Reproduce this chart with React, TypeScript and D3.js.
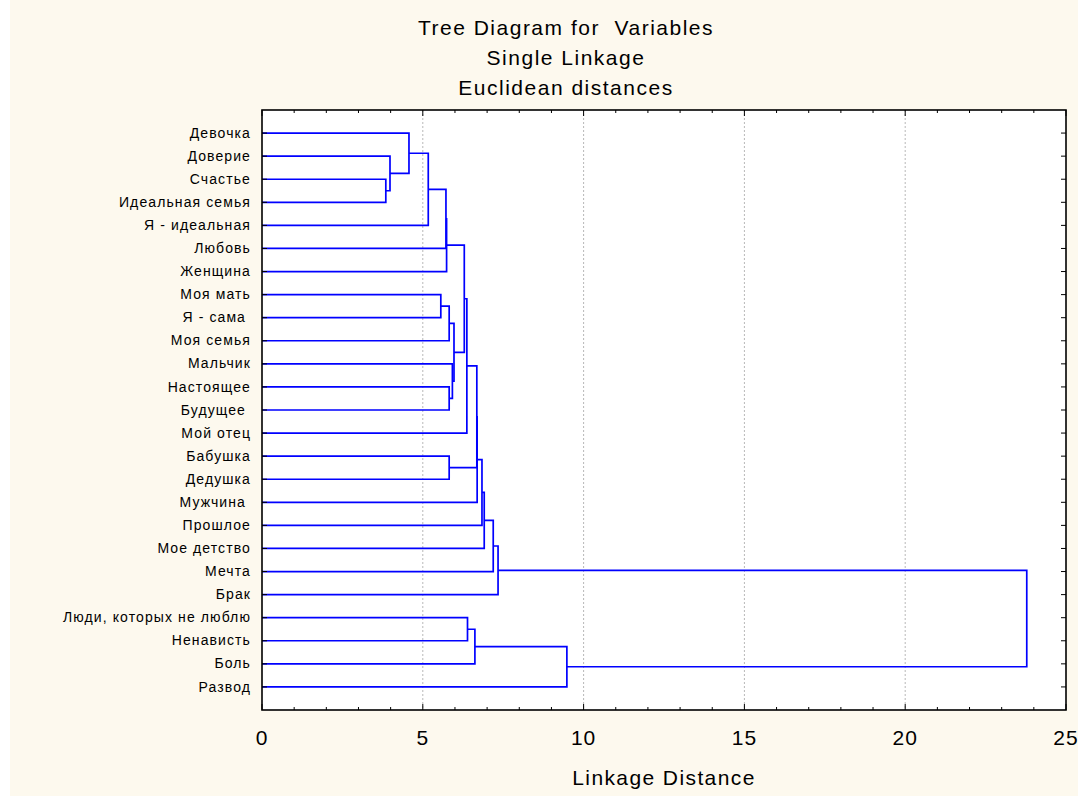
import React, { useEffect, useRef } from 'react';
import * as d3 from 'd3';

// листья дерева, сверху вниз
const labels = [
  'Девочка',
  'Доверие',
  'Счастье',
  'Идеальная семья',
  'Я - идеальная',
  'Любовь',
  'Женщина',
  'Моя мать',
  'Я - сама ',
  'Моя семья',
  'Мальчик',
  'Настоящее',
  'Будущее ',
  'Мой отец',
  'Бабушка',
  'Дедушка',
  'Мужчина ',
  'Прошлое',
  'Мое детство',
  'Мечта',
  'Брак',
  'Люди, которых не люблю',
  'Ненависть',
  'Боль',
  'Развод',
];

// объединения: [левый, правый, расстояние]; индекс >= labels.length -> предыдущее объединение
const merges = [
  [2, 3, 3.85],
  [1, 25, 3.98],
  [0, 26, 4.57],
  [27, 4, 5.17],
  [7, 8, 5.56],
  [28, 5, 5.72],
  [30, 6, 5.74],
  [29, 9, 5.82],
  [11, 12, 5.82],
  [14, 15, 5.82],
  [10, 33, 5.92],
  [32, 35, 5.97],
  [31, 36, 6.29],
  [37, 13, 6.37],
  [21, 22, 6.39],
  [39, 23, 6.62],
  [38, 34, 6.68],
  [41, 16, 6.69],
  [42, 17, 6.84],
  [43, 18, 6.91],
  [44, 19, 7.19],
  [45, 20, 7.34],
  [40, 24, 9.48],
  [46, 47, 23.78],
];

const xTicks = [0, 5, 10, 15, 20, 25];
const titleLines = ['Tree Diagram for  Variables', 'Single Linkage', 'Euclidean distances'];
const xTitle = 'Linkage Distance';

const FONT = '"Liberation Sans", Arial, sans-serif';

const App = () => {
  const svgRef = useRef<SVGSVGElement>(null);

  useEffect(() => {
    const width = 1078;
    const height = 796;
    const margin = { top: 110, right: 12, bottom: 86, left: 262 };

    const svg = d3.select(svgRef.current);
    svg.selectAll('*').remove();
    svg.attr('width', width).attr('height', height);

    // фон
    svg.append('rect').attr('width', width).attr('height', height).attr('fill', '#ffffff');
    svg.append('rect').attr('x', 10).attr('width', width - 10).attr('height', height).attr('fill', '#fdf9ee');

    const x0 = margin.left;
    const x1 = width - margin.right;
    const y0 = margin.top;
    const y1 = height - margin.bottom;

    const xScale = d3.scaleLinear().domain([0, 25]).range([x0, x1]);
    const yScale = d3.scalePoint<number>()
      .domain(labels.map((_, i) => i))
      .range([y0, y1])
      .padding(1);

    svg.append('rect')
      .attr('x', x0).attr('y', y0)
      .attr('width', x1 - x0).attr('height', y1 - y0)
      .attr('fill', '#ffffff');

    // сетка
    svg.append('g')
      .selectAll('line')
      .data(xTicks.filter(t => t > 0 && t < 25))
      .enter()
      .append('line')
      .attr('x1', d => xScale(d)).attr('x2', d => xScale(d))
      .attr('y1', y0).attr('y2', y1)
      .attr('stroke', '#b8b8b8')
      .attr('stroke-width', 1)
      .attr('stroke-dasharray', '2,2');

    // координаты узлов
    const nodeX: number[] = labels.map(() => xScale(0));
    const nodeY: number[] = labels.map((_, i) => yScale(i) as number);
    merges.forEach(([a, b, h]) => {
      nodeX.push(xScale(h));
      nodeY.push((nodeY[a] + nodeY[b]) / 2);
    });

    // ветви
    svg.append('g')
      .selectAll('path')
      .data(merges)
      .enter()
      .append('path')
      .attr('d', ([a, b, h]) => {
        const xn = xScale(h);
        return `M${nodeX[a]},${nodeY[a]}H${xn}V${nodeY[b]}H${nodeX[b]}`;
      })
      .attr('fill', 'none')
      .attr('stroke', '#0000ff')
      .attr('stroke-width', 1.7);

    // тики по оси X (снизу и сверху, внутрь)
    const minor = d3.range(0, 26);
    const tickG = svg.append('g').attr('stroke', '#000').attr('stroke-width', 1);
    minor.forEach(v => {
      const len = v % 5 === 0 ? 6 : 3;
      tickG.append('line').attr('x1', xScale(v)).attr('x2', xScale(v)).attr('y1', y1).attr('y2', y1 - len);
      tickG.append('line').attr('x1', xScale(v)).attr('x2', xScale(v)).attr('y1', y0).attr('y2', y0 + len);
    });
    // тики по оси Y
    labels.forEach((_, i) => {
      const y = yScale(i) as number;
      tickG.append('line').attr('x1', x0).attr('x2', x0 + 5).attr('y1', y).attr('y2', y);
      tickG.append('line').attr('x1', x1).attr('x2', x1 - 5).attr('y1', y).attr('y2', y);
    });

    // рамка
    svg.append('rect')
      .attr('x', x0).attr('y', y0)
      .attr('width', x1 - x0).attr('height', y1 - y0)
      .attr('fill', 'none')
      .attr('stroke', '#000')
      .attr('stroke-width', 1.6);

    // подписи листьев
    svg.append('g')
      .selectAll('text')
      .data(labels)
      .enter()
      .append('text')
      .attr('x', x0 - 11)
      .attr('y', (_, i) => (yScale(i) as number) + 4.6)
      .attr('text-anchor', 'end')
      .style('white-space', 'pre')
      .attr('font-family', FONT)
      .attr('font-size', 14)
      .attr('letter-spacing', 1.1)
      .attr('fill', '#000')
      .text(d => d);

    // подписи оси X
    svg.append('g')
      .selectAll('text')
      .data(xTicks)
      .enter()
      .append('text')
      .attr('x', d => xScale(d))
      .attr('y', 745)
      .attr('text-anchor', 'middle')
      .attr('font-family', FONT)
      .attr('font-size', 21)
      .attr('letter-spacing', 1)
      .attr('fill', '#000')
      .text(d => d);

    svg.append('text')
      .attr('x', (x0 + x1) / 2)
      .attr('y', 785)
      .attr('text-anchor', 'middle')
      .attr('font-family', FONT)
      .attr('font-size', 21)
      .attr('letter-spacing', 1.4)
      .attr('fill', '#000')
      .text(xTitle);

    // заголовок
    svg.append('g')
      .selectAll('text')
      .data(titleLines)
      .enter()
      .append('text')
      .attr('x', 566)
      .attr('y', (_, i) => 34.5 + i * 30.3)
      .attr('text-anchor', 'middle')
      .style('white-space', 'pre')
      .attr('font-family', FONT)
      .attr('font-size', 21)
      .attr('letter-spacing', 1.5)
      .attr('fill', '#000')
      .text(d => d);
  }, []);

  return <svg ref={svgRef} style={{ position: 'absolute', left: 0, top: 0, display: 'block' }}></svg>;
};

export default App;
